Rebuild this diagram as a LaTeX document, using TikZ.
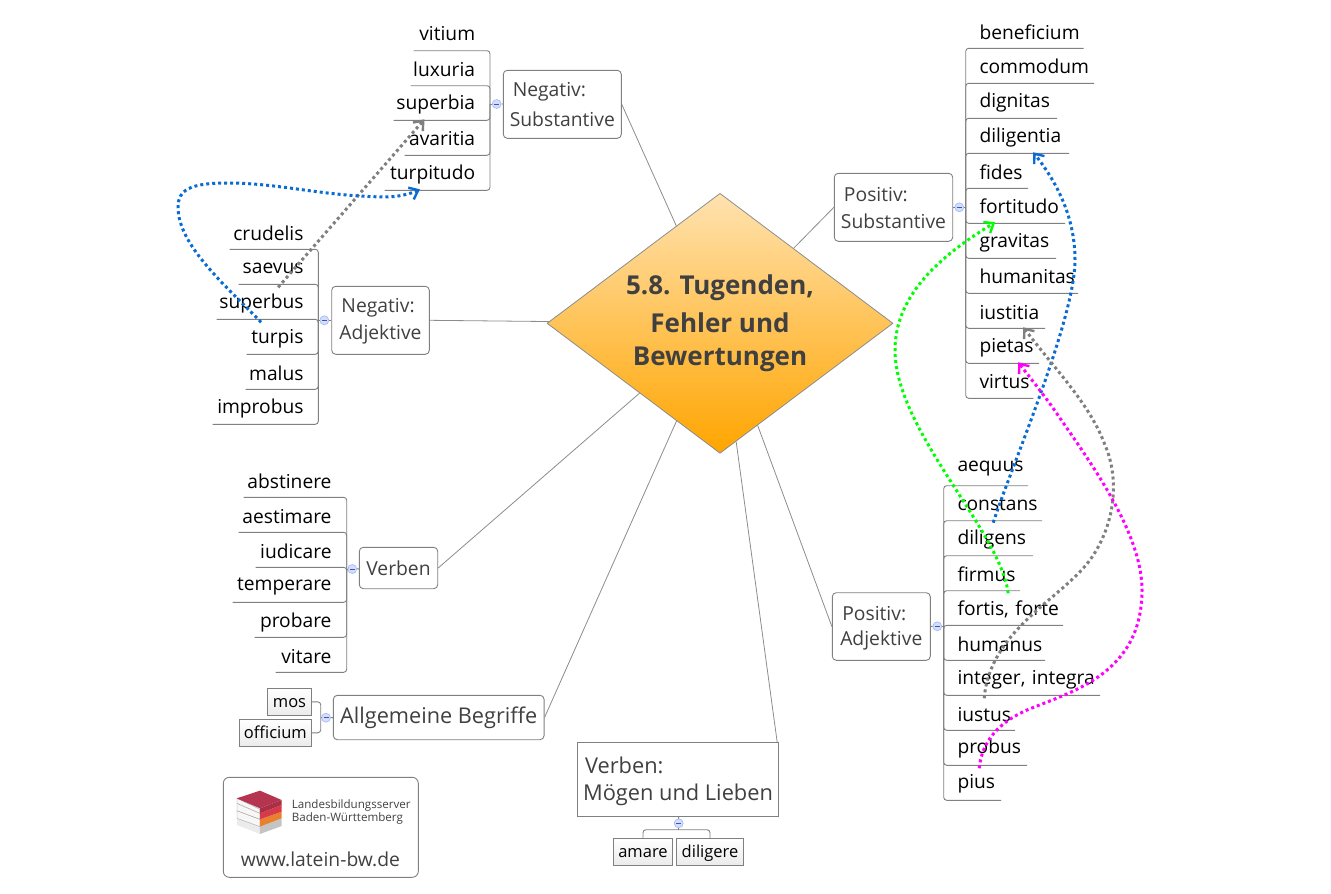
\documentclass[tikz,border=0pt]{standalone}
\usepackage{fontspec}
\setmainfont{Open Sans}
\usetikzlibrary{shapes.geometric,arrows.meta}
\hyphenpenalty=10000
\exhyphenpenalty=10000
\definecolor{linegray}{HTML}{808080}
\definecolor{spokegray}{HTML}{8C8C8C}
\definecolor{topicgray}{HTML}{404040}
\definecolor{knotblue}{HTML}{CFE0FB}
\definecolor{linkblue}{HTML}{0A6CD2}
\definecolor{linkgray}{HTML}{808080}
\definecolor{linkgreen}{HTML}{00FF00}
\definecolor{linkpink}{HTML}{FF00FF}
\definecolor{roottop}{HTML}{FFE2B0}
\definecolor{rootlow}{HTML}{FFA500}
\definecolor{bookcover}{HTML}{B5344F}
\definecolor{bookone}{HTML}{A92F47}
\definecolor{booktwo}{HTML}{D93A4A}
\definecolor{bookthree}{HTML}{E8812F}
\definecolor{bookfour}{HTML}{C4C4C4}
\tikzset{
  branch/.style={draw=linegray, line width=.9pt, rounded corners=3pt},
  spoke/.style={draw=spokegray, line width=.8pt},
  leafleft/.style={anchor=south east, inner sep=0pt, align=right, text height=20pt, text depth=#1pt, font=\fontsize{19.2}{22}\selectfont},
  leafright/.style={anchor=south west, inner sep=0pt, align=left, text height=20pt, text depth=#1pt, font=\fontsize{19.2}{22}\selectfont},
  topic/.style={draw=linegray, line width=.9pt, rounded corners=4pt, align=left, inner sep=0pt, text=topicgray, font=\fontsize{19.3}{27}\selectfont},
  smallbox/.style={draw=linegray, line width=.9pt, top color=white, bottom color=black!8, inner sep=0pt, text height=14pt, text depth=2pt, font=\fontsize{16.5}{20}\selectfont},
  knot/.style={circle, draw=knotblue!80!blue, fill=knotblue, line width=.6pt, minimum size=9pt, inner sep=0pt,
    path picture={\draw[blue!40!gray, line width=.6pt] ([xshift=-2.5pt]path picture bounding box.center) -- ([xshift=2.5pt]path picture bounding box.center);}},
  link/.style={line width=3pt, dash pattern=on 3pt off 3pt, -{Straight Barb[length=8pt,width=13pt,line width=2.4pt]}},
}
\begin{document}
\begin{tikzpicture}[x=1pt,y=-1pt]
\useasboundingbox (0,0) rectangle (1331,894);

% centre
\node[diamond, draw=spokegray, line width=.8pt, top color=roottop, bottom color=rootlow, shape aspect=1.33, minimum width=346pt, minimum height=260pt, inner sep=0pt, align=center, text=topicgray, font=\fontsize{26}{33}\bfseries\selectfont] (root) at (720,323.3) {5.8. Tugenden,\\[5.7pt]Fehler und\\Bewertungen};

% topics
\node[topic, minimum width=118pt, minimum height=68pt] (negsub) at (562.3,104.3) {\hspace*{3pt}Negativ:\\[3pt]Substantive};
\node[topic, minimum width=97.6pt, minimum height=68pt] (negadj) at (380.5,320.3) {\rule{0pt}{16.5pt}\hspace*{2pt}Negativ:\\Adjektive};
\node[topic, minimum width=118.4pt, minimum height=68pt] (possub) at (893.5,207.3) {\rule{0pt}{16.5pt}\hspace*{3pt}Positiv:\\Substantive};
\node[topic, minimum width=98pt, minimum height=67.6pt] (posadj) at (881.3,626.5) {\rule{0pt}{18pt}\hspace*{2pt}Positiv:\\[-2pt]Adjektive};
\node[topic, minimum width=78.4pt, minimum height=41.4pt] (verben) at (398.5,568) {Verben};
\node[topic, minimum width=210.7pt, minimum height=44.4pt, font=\fontsize{21.7}{26}\selectfont] (allg) at (438.7,717.5) {Allgemeine Begriffe};
\node[topic, rounded corners=0pt, minimum width=201.4pt, minimum height=74pt, font=\fontsize{21.8}{27}\selectfont] (moegen) at (678,779.3) {\rule{0pt}{21pt}\hspace*{2pt}Verben:\\Mögen und Lieben};

\draw[spoke] (negsub.east) -- (root);
\draw[spoke] (negadj.east) -- (root);
\draw[spoke] (possub.west) -- (root);
\draw[spoke] (posadj.west) -- (root);
\draw[spoke] (verben.east) -- (root);
\draw[spoke] (allg.east) -- (root);
\draw[spoke] ([xshift=-2pt]moegen.north east) -- (root);

% knots and spines
\node[knot] (knegsub) at (496.7,104) {};
\node[knot] (knegadj) at (324.3,320.3) {};
\node[knot] (kverben) at (352.3,569) {};
\node[knot] (kallg) at (326,717.7) {};
\node[knot] (kpossub) at (959.3,207.3) {};
\node[knot] (kposadj) at (937.3,626.3) {};
\node[knot] (kmoegen) at (678.7,823.3) {};
\coordinate (snegsub) at (490,104);
\coordinate (snegadj) at (318.3,320.3);
\coordinate (sverben) at (346.7,569);
\coordinate (sallg) at (320.7,717.7);
\coordinate (spossub) at (965.7,207.3);
\coordinate (sposadj) at (943.7,626.3);
\coordinate (smoegen) at (678.7,829.7);

\draw[branch] (negsub) -- (knegsub);
\draw[branch] (negadj) -- (knegadj);
\draw[branch] (verben) -- (kverben);
\draw[branch] (allg) -- (kallg);
\draw[branch] (possub) -- (kpossub);
\draw[branch] (posadj) -- (kposadj);
\draw[branch] (moegen) -- (kmoegen);
\draw[branch] (knegsub) -- (snegsub);
\draw[branch] (knegadj) -- (snegadj);
\draw[branch] (kverben) -- (sverben);
\draw[branch] (kallg) -- (sallg);
\draw[branch] (kpossub) -- (spossub);
\draw[branch] (kposadj) -- (sposadj);
\draw[branch] (kmoegen) -- (smoegen);

% negativ substantive
\node[leafleft=9.7, text width=61.3pt] (vitium) at (475.3,50.7) {vitium};
\node[leafleft=9, text width=64.3pt] (luxuria) at (475.3,85.7) {luxuria};
\node[leafleft=11, text width=81.3pt] (superbia) at (475.3,120.3) {superbia};
\node[leafleft=9.3, text width=70.3pt] (avaritia) at (475.3,155.3) {avaritia};
\node[leafleft=11, text width=90.3pt] (turpitudo) at (475.3,190.3) {turpitudo};
\draw[branch] (vitium.south west) -| (snegsub);
\draw[branch] (luxuria.south west) -| (snegsub);
\draw[branch] (superbia.south west) -| (snegsub);
\draw[branch] (avaritia.south west) -| (snegsub);
\draw[branch] (turpitudo.south west) -| (snegsub);

% negativ adjektive
\node[leafleft=8.7, text width=73.7pt] (crudelis) at (303.7,249.3) {crudelis};
\node[leafleft=11, text width=64.7pt] (saevus) at (303.7,284.3) {saevus};
\node[leafleft=11, text width=86.7pt] (superbus) at (303.7,319.3) {superbus};
\node[leafleft=11, text width=56.7pt] (turpis) at (303.7,354.3) {turpis};
\node[leafleft=8.7, text width=57.7pt] (malus) at (303.7,389.3) {malus};
\node[leafleft=11, text width=90.7pt] (improbus) at (303.7,424.3) {improbus};
\draw[branch] (crudelis.south west) -| (snegadj);
\draw[branch] (saevus.south west) -| (snegadj);
\draw[branch] (superbus.south west) -| (snegadj);
\draw[branch] (turpis.south west) -| (snegadj);
\draw[branch] (malus.south west) -| (snegadj);
\draw[branch] (improbus.south west) -| (snegadj);

% verben
\node[leafleft=8.3, text width=87.7pt] (abstinere) at (331.7,497.3) {abstinere};
\node[leafleft=8.3, text width=92.7pt] (aestimare) at (331.7,532.3) {aestimare};
\node[leafleft=8.7, text width=75.7pt] (iudicare) at (331.7,567.3) {iudicare};
\node[leafleft=11.7, text width=98.7pt] (temperare) at (331.7,602.3) {temperare};
\node[leafleft=10, text width=76.7pt] (probare) at (331.7,637.3) {probare};
\node[leafleft=8.3, text width=55.7pt] (vitare) at (331.7,672.3) {vitare};
\draw[branch] (abstinere.south west) -| (sverben);
\draw[branch] (aestimare.south west) -| (sverben);
\draw[branch] (iudicare.south west) -| (sverben);
\draw[branch] (temperare.south west) -| (sverben);
\draw[branch] (probare.south west) -| (sverben);
\draw[branch] (vitare.south west) -| (sverben);

% allgemeine begriffe
\node[smallbox, minimum width=44.4pt, minimum height=27pt] (mos) at (289.5,701.8) {mos};
\node[smallbox, minimum width=72.7pt, minimum height=27.7pt] (officium) at (275.35,732.85) {officium};
\draw[branch] (mos.east) -| (sallg);
\draw[branch] (officium.east) -| (sallg);

% moegen und lieben
\node[smallbox, minimum width=59.4pt, minimum height=27pt] (amare) at (643,851.8) {amare};
\node[smallbox, minimum width=67.4pt, minimum height=27pt] (diligere) at (710,851.8) {diligere};
\draw[branch] (amare.north) |- (smoegen);
\draw[branch] (diligere.north) |- (smoegen);

% positiv substantive
\node[leafright=9, text width=104pt] (beneficium) at (979.3,48.3) {beneficium};
\node[leafright=9.3, text width=114.4pt] (commodum) at (979.3,83.3) {commodum};
\node[leafright=11, text width=77.4pt] (dignitas) at (979.3,118.3) {dignitas};
\node[leafright=11, text width=89.4pt] (diligentia) at (979.3,153.3) {diligentia};
\node[leafright=8.3, text width=48.4pt] (fides) at (979.3,188.3) {fides};
\node[leafright=9.3, text width=85.4pt] (fortitudo) at (979.3,223.3) {fortitudo};
\node[leafright=11, text width=76.4pt] (gravitas) at (979.3,258.3) {gravitas};
\node[leafright=9.3, text width=98.4pt] (humanitas) at (979.3,293.3) {humanitas};
\node[leafright=8.3, text width=65.4pt] (iustitia) at (979.3,328.3) {iustitia};
\node[leafright=10.7, text width=59.4pt] (pietas) at (979.3,363.3) {pietas};
\node[leafright=9.3, text width=53.7pt] (virtus) at (979.3,398.3) {virtus};
\draw[branch] (beneficium.south east) -| (spossub);
\draw[branch] (commodum.south east) -| (spossub);
\draw[branch] (dignitas.south east) -| (spossub);
\draw[branch] (diligentia.south east) -| (spossub);
\draw[branch] (fides.south east) -| (spossub);
\draw[branch] (fortitudo.south east) -| (spossub);
\draw[branch] (gravitas.south east) -| (spossub);
\draw[branch] (humanitas.south east) -| (spossub);
\draw[branch] (iustitia.south east) -| (spossub);
\draw[branch] (pietas.south east) -| (spossub);
\draw[branch] (virtus.south east) -| (spossub);

% positiv adjektive
\node[leafright=14, text width=70.4pt] (aequus) at (957.3,485.7) {aequus};
\node[leafright=10, text width=84.4pt] (constans) at (957.3,520.7) {constans};
\node[leafright=11.4, text width=75.4pt] (diligens) at (957.3,555.7) {diligens};
\node[leafright=9, text width=62.4pt] (firmus) at (957.3,590.7) {firmus};
\node[leafright=10, text width=105.4pt] (fortis) at (957.3,625.3) {fortis, forte};
\node[leafright=9, text width=87.4pt] (humanus) at (957.3,660.3) {humanus};
\node[leafright=11, text width=142.4pt] (integer) at (957.3,695.3) {integer, integra};
\node[leafright=8.6, text width=57.4pt] (iustus) at (957.3,730.3) {iustus};
\node[leafright=11.3, text width=69.4pt] (probus) at (957.3,765.3) {probus};
\node[leafright=11.3, text width=43.4pt] (pius) at (957.3,800.3) {pius};
\draw[branch] (aequus.south east) -| (sposadj);
\draw[branch] (constans.south east) -| (sposadj);
\draw[branch] (diligens.south east) -| (sposadj);
\draw[branch] (firmus.south east) -| (sposadj);
\draw[branch] (fortis.south east) -| (sposadj);
\draw[branch] (humanus.south east) -| (sposadj);
\draw[branch] (integer.south east) -| (sposadj);
\draw[branch] (iustus.south east) -| (sposadj);
\draw[branch] (probus.south east) -| (sposadj);
\draw[branch] (pius.south east) -| (sposadj);

% relations
\draw[link, linkgray] ([xshift=18pt,yshift=32pt]superbus.south) -- ([xshift=-10pt,yshift=1pt]superbia.south);
\draw[link, linkblue] ([xshift=-14pt,yshift=32pt]turpis.south) .. controls (225,285) and (178,245) .. (178,207) .. controls (178,190) and (190,183) .. (227,183) .. controls (280,183) and (320,196) .. (385,197) .. controls (398,197) and (410,194) .. ([xshift=-10pt,yshift=1pt]turpitudo.south);
\draw[link, linkblue] ([xshift=-2pt,yshift=33pt]diligens.south) .. controls (1010,470) and (1075,320) .. (1075,260) .. controls (1075,215) and (1055,180) .. ([xshift=9pt,yshift=1pt]diligentia.south);
\draw[link, linkgreen] ([xshift=-2pt,yshift=32pt]fortis.south) .. controls (1000,530) and (895,430) .. (895,350) .. controls (895,290) and (950,250) .. ([xshift=-27pt,yshift=1pt]fortitudo.south);
\draw[link, linkgray] ([xshift=-2pt,yshift=32pt]iustus.south) .. controls (990,630) and (1060,600) .. (1090,560) .. controls (1115,525) and (1120,480) .. (1105,445) .. controls (1090,405) and (1060,375) .. ([xshift=11pt,yshift=1pt]iustitia.south);
\draw[link, linkpink] ([yshift=32pt]pius.south) .. controls (982,740) and (1000,722) .. (1027,710) .. controls (1070,692) and (1142,675) .. (1142,590) .. controls (1142,530) and (1085,455) .. (1053,408) .. controls (1040,390) and (1028,375) .. ([xshift=9pt,yshift=1pt]pietas.south);

% logo
\node[topic, rounded corners=6pt, minimum width=195pt, minimum height=100pt] (logo) at (320.8,827.3) {};
\node[anchor=base west, inner sep=0pt, text=topicgray, font=\fontsize{11.6}{13}\selectfont] (lbs) at (291.7,808) {Landesbildungsserver};
\node[anchor=base west, inner sep=0pt, text=topicgray, font=\fontsize{11.6}{13}\selectfont] (bw) at (291.7,821.7) {Baden-Württemberg};
\node[anchor=base west, inner sep=0pt, text=topicgray, font=\fontsize{19.3}{22}\selectfont] (www) at (240.7,866) {www.latein-bw.de};
\begin{scope}[shift={(215,770)},x=.3333pt,y=-.3333pt]
\fill[black!8] (66,145) -- (135,170) -- (135,192) -- (66,165) -- cycle;
\fill[bookfour] (135,170) -- (200,145) -- (200,168) -- (135,192) -- cycle;
\filldraw[draw=black!35, line width=.4pt, fill=black!3] (66,122) -- (135,148) -- (135,170) -- (66,145) -- cycle;
\fill[bookthree] (135,148) -- (200,125) -- (200,145) -- (135,170) -- cycle;
\fill[bookthree] (66,122) -- (84,116) -- (135,136) -- (135,148) -- cycle;
\filldraw[draw=black!35, line width=.4pt, fill=black!3] (66,100) -- (135,130) -- (135,148) -- (66,122) -- cycle;
\fill[booktwo] (135,130) -- (200,105) -- (200,125) -- (135,148) -- cycle;
\filldraw[draw=black!35, line width=.4pt, fill=black!3] (66,85) -- (135,118) -- (135,130) -- (66,100) -- cycle;
\fill[bookone] (135,115) -- (200,90) -- (200,105) -- (135,130) -- cycle;
\fill[bookcover] (65,85) -- (135,62) -- (200,90) -- (135,115) -- cycle;
\end{scope}
\end{tikzpicture}
\end{document}
